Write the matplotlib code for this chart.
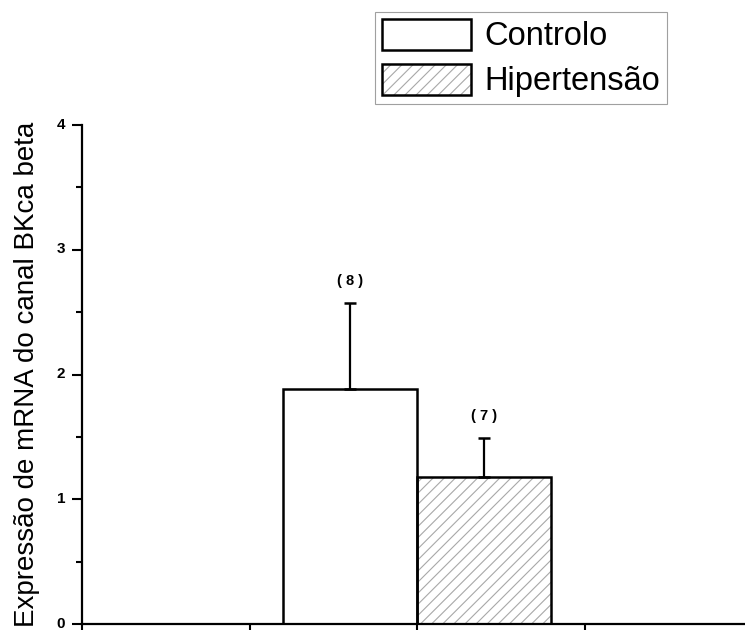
import matplotlib.pyplot as plt
from matplotlib.patches import Patch
from matplotlib.legend_handler import HandlerTuple
from matplotlib.ticker import MultipleLocator
from matplotlib.transforms import ScaledTranslation

groups = ['Controlo', 'Hipertensão']
means = [1.88, 1.18]
errors = [0.69, 0.31]
n_labels = ['( 8 )', '( 7 )']
positions = [1.6, 2.4]

plt.rcParams['font.family'] = ['Liberation Sans', 'DejaVu Sans']
plt.rcParams['hatch.linewidth'] = 0.8

fig = plt.figure(figsize=(7.45, 6.3), dpi=100)
ax = fig.add_axes([82 / 745, 6 / 630, 670 / 745, 499 / 630])

hatches = ['', '///']
hatch_grey = '#a8a8a8'
# hatch fill in grey first, black outline on top
for x, m, h in zip(positions, means, hatches):
    ax.bar(x, m, width=0.8, color='white', edgecolor=hatch_grey, hatch=h, linewidth=0, zorder=2)
    ax.bar(x, m, width=0.8, fill=False, edgecolor='black', linewidth=1.8, zorder=3)

ax.errorbar(positions, means, yerr=[[0, 0], errors], fmt='none', ecolor='black',
            elinewidth=1.6, capsize=4, capthick=1.8, zorder=4)

for x, m, e, lab in zip(positions, means, errors, n_labels):
    ax.text(x, m + e + 0.12, lab, ha='center', va='bottom', fontsize=10.5, fontweight='bold')

ax.set_xlim(0, 4)
ax.set_ylim(0, 4)
ax.set_xticks([0, 1, 2, 3, 4])
ax.set_xticklabels([])
ax.yaxis.set_major_locator(MultipleLocator(1))
ax.yaxis.set_minor_locator(MultipleLocator(0.5))
ax.tick_params(axis='y', which='major', length=7, width=1.5, labelsize=11, pad=5)
ax.tick_params(axis='y', which='minor', length=4, width=1.5)
ax.tick_params(axis='x', which='major', length=8, width=1.5)
shift = ScaledTranslation(0, 2 / 100, fig.dpi_scale_trans)
for lab in ax.get_yticklabels():
    lab.set_fontweight('bold')
    lab.set_transform(lab.get_transform() + shift)
ax.spines['top'].set_visible(False)
ax.spines['right'].set_visible(False)
ax.spines['left'].set_linewidth(1.6)
ax.spines['bottom'].set_linewidth(1.6)
ax.set_ylabel('Expressão de mRNA do canal BKca beta', fontsize=20, labelpad=12)

h1 = Patch(facecolor='white', edgecolor='black', linewidth=1.8)
h2 = (Patch(facecolor='white', edgecolor=hatch_grey, hatch='///', linewidth=0),
      Patch(fill=False, edgecolor='black', linewidth=1.8))
leg = fig.legend([h1, h2], groups, handler_map={tuple: HandlerTuple(ndivide=1, pad=0)},
                 loc='upper left', bbox_to_anchor=(375 / 745, 1 - 12 / 630),
                 fontsize=23.5, frameon=True, fancybox=False, edgecolor='#888888',
                 handlelength=2.75, handleheight=1.1, handletextpad=0.4,
                 borderpad=0.2, labelspacing=0.35, borderaxespad=0)
leg.get_frame().set_linewidth(0.8)

fig.savefig('out.png', dpi=100)
